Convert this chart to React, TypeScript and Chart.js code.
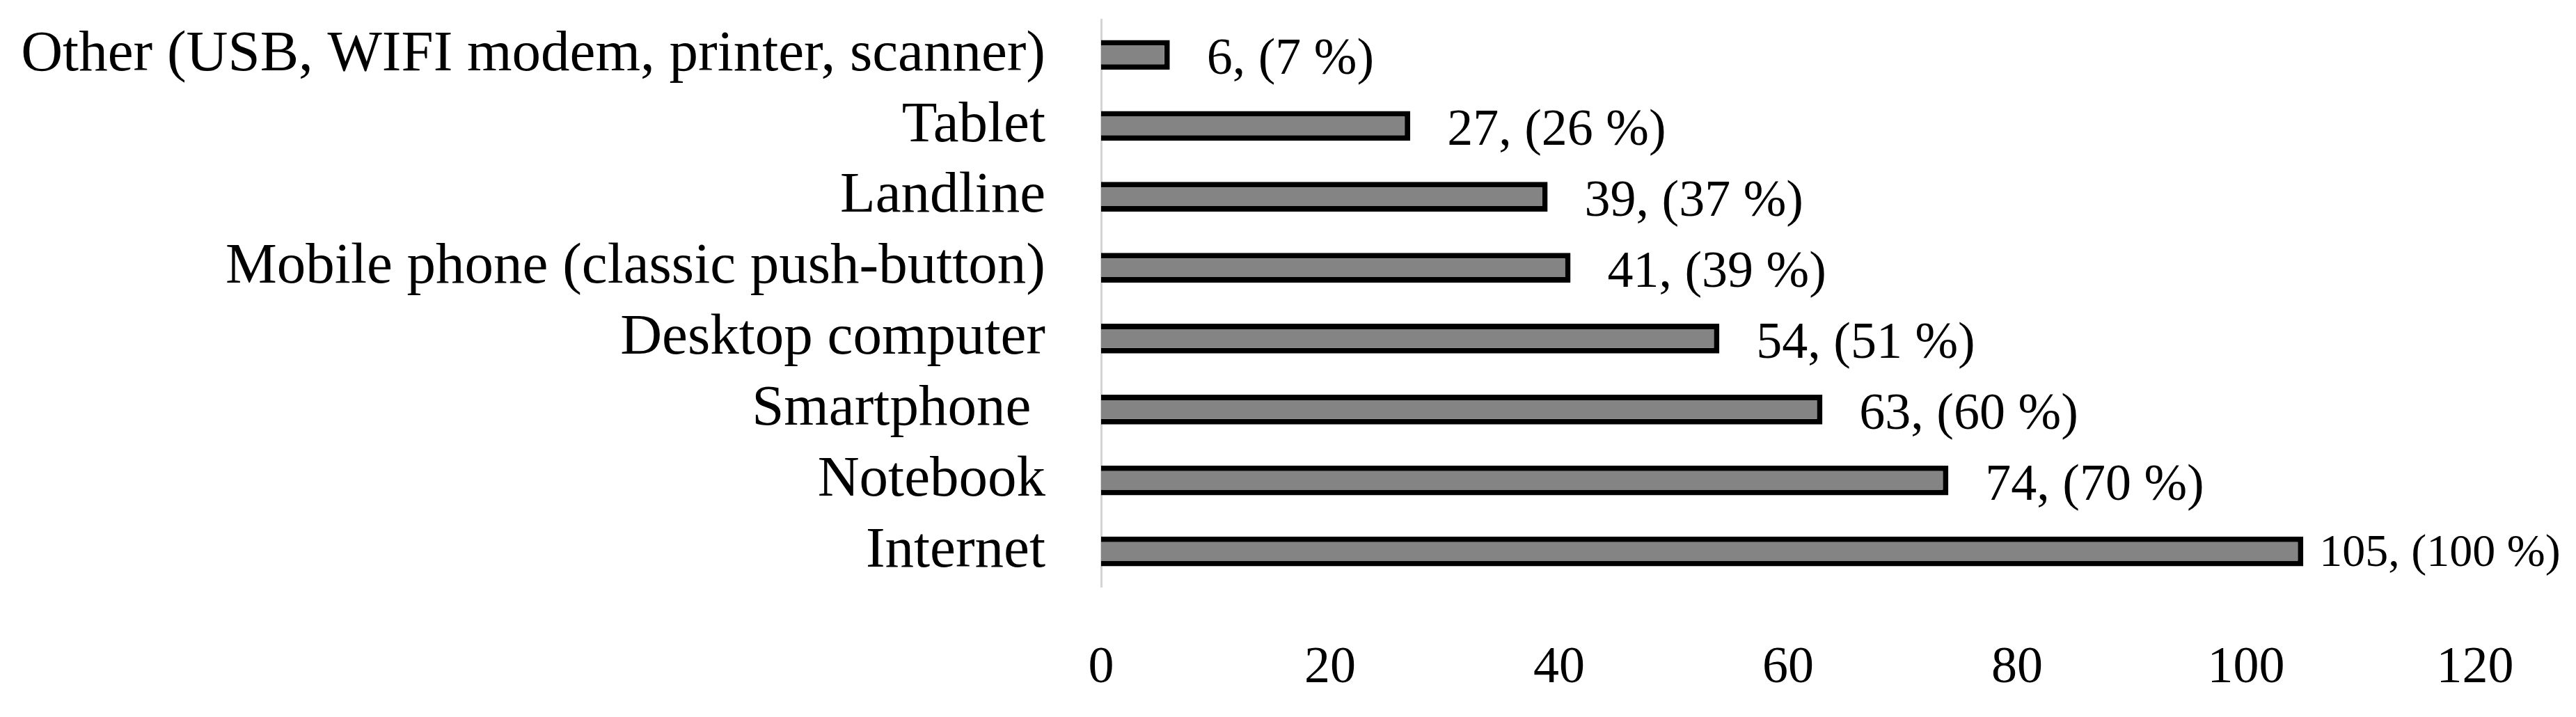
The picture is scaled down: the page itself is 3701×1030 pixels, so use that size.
import React, { useEffect, useRef } from "react";
import { Chart, registerables } from "chart.js";

Chart.register(...registerables);

const categories = [
  "Other (USB, WIFI modem, printer, scanner)",
  "Tablet",
  "Landline",
  "Mobile phone (classic push-button)",
  "Desktop computer",
  "Smartphone ",
  "Notebook",
  "Internet",
];
const counts = [6, 27, 39, 41, 54, 63, 74, 105];
const percents = [7, 26, 37, 39, 51, 60, 70, 100];
const xTicks = [0, 20, 40, 60, 80, 100, 120];

const FONT = '"Liberation Serif", "Times New Roman", serif';

const labelPlugin = {
  id: "barLabels",
  afterDatasetsDraw(chart: any) {
    const ctx = chart.ctx;
    const meta = chart.getDatasetMeta(0);
    const maxV = Math.max(...counts);
    ctx.save();
    ctx.fillStyle = "#000";
    ctx.textAlign = "left";
    ctx.textBaseline = "middle";
    meta.data.forEach((el: any, i: number) => {
      const v = counts[i];
      const isMax = v === maxV;
      ctx.font = `${isMax ? 66 : 74}px ${FONT}`;
      const gap = isMax ? 23 : 53;
      ctx.fillText(`${v}, (${percents[i]} %)`, el.x + gap, el.y + (isMax ? 4 : 8));
    });
    ctx.restore();
  },
};

export default function App() {
  const ref = useRef<HTMLCanvasElement | null>(null);

  useEffect(() => {
    document.body.style.margin = "0";
    document.body.style.overflow = "hidden";
    const canvas = ref.current;
    if (!canvas) return;
    const chart = new Chart(canvas, {
      type: "bar",
      data: {
        labels: categories,
        datasets: [
          {
            data: counts,
            backgroundColor: "#848484",
            borderColor: "#000000",
            borderWidth: 8,
            borderSkipped: "start",
            categoryPercentage: 1,
            barPercentage: 0.42,
          },
        ],
      },
      options: {
        indexAxis: "y",
        animation: false,
        responsive: true,
        maintainAspectRatio: false,
        layout: { padding: { top: 28, right: 145, left: 0, bottom: 0 } },
        plugins: {
          legend: { display: false },
          tooltip: { enabled: false },
          title: { display: false },
        },
        scales: {
          x: {
            type: "linear",
            min: xTicks[0],
            max: xTicks[xTicks.length - 1],
            grid: { display: false, drawTicks: false },
            border: { display: false },
            ticks: {
              stepSize: xTicks[1] - xTicks[0],
              color: "#000",
              padding: 73,
              maxRotation: 0,
              font: { family: FONT, size: 74 },
            },
            afterFit: (scale: any) => {
              scale.height = 187;
              scale.paddingLeft = 0;
              scale.paddingRight = 0;
              scale.paddingTop = 0;
              scale.paddingBottom = 0;
            },
          },
          y: {
            grid: { display: false, drawTicks: false },
            border: { display: true, color: "#d4d4d4", width: 3 },
            ticks: {
              color: "#000",
              padding: 80,
              autoSkip: false,
              font: { family: FONT, size: 83 },
            },
            afterFit: (scale: any) => {
              scale.width = 1582;
              scale.paddingLeft = 0;
              scale.paddingRight = 0;
              scale.paddingTop = 0;
              scale.paddingBottom = 0;
            },
          },
        },
      },
      plugins: [labelPlugin],
    });
    return () => chart.destroy();
  }, []);

  return (
    <div style={{ width: 3701, height: 1030, position: "relative" }}>
      <canvas ref={ref} />
    </div>
  );
}
